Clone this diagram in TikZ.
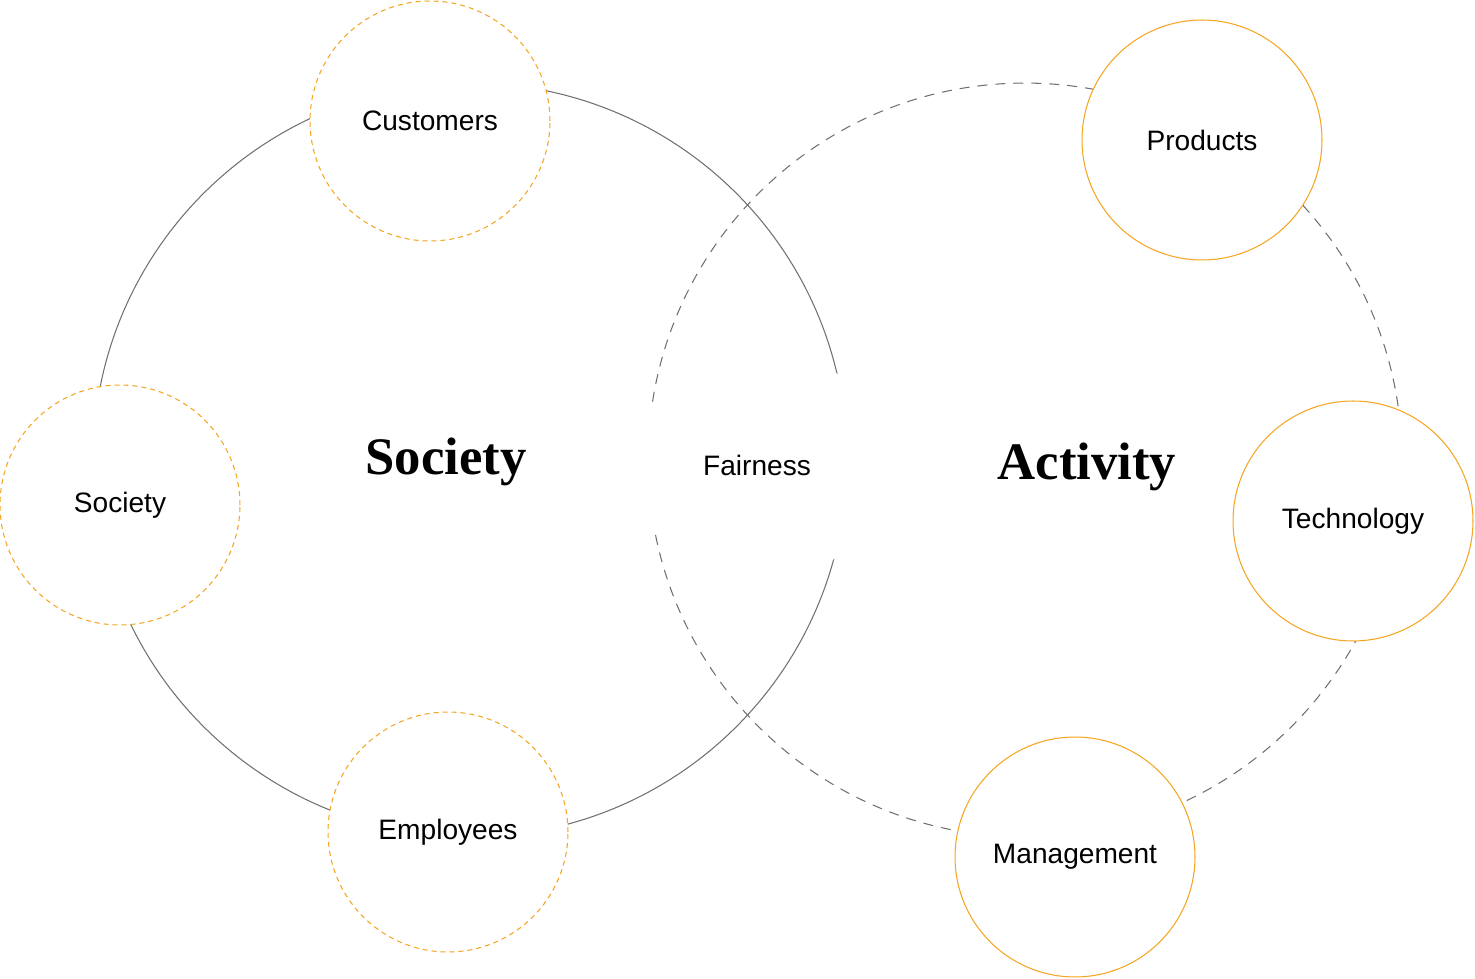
\documentclass[tikz,border=0pt]{standalone}
\usepackage{fontspec}
\setmainfont{Liberation Sans}
\newfontfamily\headfont{Liberation Serif}
\definecolor{ringgray}{HTML}{707070}
\definecolor{topicorange}{HTML}{F5A623}
\begin{document}
\begin{tikzpicture}[x=0.02cm, y=-0.02cm,
      ring/.style={draw=ringgray, circle, line width=0.6pt, inner sep=0pt, minimum size=15.08cm},
      dashring/.style={ring, dash pattern=on 0.2cm off 0.16cm},
      topic/.style={circle, draw=topicorange, fill=white, line width=0.6pt, inner sep=0pt, minimum size=4.8cm, font=\fontsize{16}{19}\selectfont},
      dashtopic/.style={topic, dash pattern=on 0.1cm off 0.08cm},
      heading/.style={font=\headfont\bfseries\fontsize{30}{36}\selectfont}]
      \useasboundingbox (0,0) rectangle (1475,979);
      \node (societyring) [ring] at (470,460) {};
      \node (activityring) [dashring] at (1025,460) {};
      
      \node (fairness) [circle, fill=white, inner sep=0pt, minimum size=4.86cm, font=\fontsize{16}{19}\selectfont] at (757,465) {Fairness};
      \node (societyhead) [heading] at (446,462) {Society};
      \node (activityhead) [heading] at (1087,467) {Activity};
      
      \node (customers) [dashtopic] at (430,121) {Customers};
      \node (society) [dashtopic] at (120,505) {Society};
      \node (employees) [dashtopic] at (448,832) {Employees};
      \node (products) [topic] at (1202,140) {Products};
      \node (technology) [topic] at (1353,521) {Technology};
      \node (management) [topic] at (1075,857) {Management};
    \end{tikzpicture}
\end{document}
